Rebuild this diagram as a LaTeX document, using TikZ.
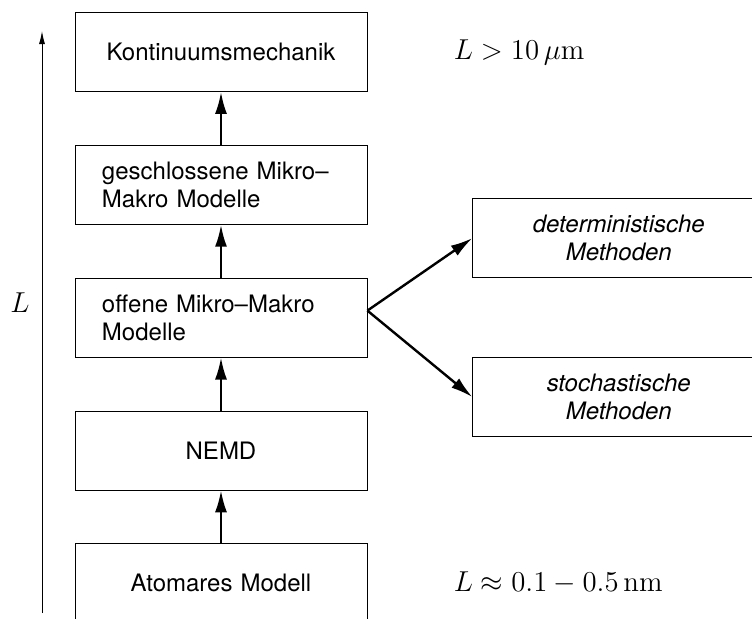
\documentclass[tikz,border=0pt]{standalone}
\usepackage{amsmath,amssymb}
\usepackage{fontspec}
\setsansfont{TeX Gyre Heros}
\usetikzlibrary{arrows.meta,positioning}
\tikzstyle{level} = [draw,line width=0.4pt,minimum width=146pt,minimum height=39.5pt,inner xsep=13.5pt,text width=119pt,align=center,font=\sffamily\fontsize{12}{13.8}\selectfont]
\tikzstyle{method} = [level,font=\sffamily\itshape\fontsize{12}{13.8}\selectfont]
\tikzstyle{flow} = [-{Latex[length=11pt,width=6pt]},line width=1.2pt]
\tikzstyle{lenaxis} = [-{Latex[length=6.5pt,width=3pt]},line width=0.5pt]
\tikzstyle{bound} = [inner sep=0,font=\Large]
\def \gap {26.5pt}

\begin{document}
\begin{tikzpicture}[node distance=\gap]
      \useasboundingbox (0,0) rectangle (376pt,-309pt);
      \node[level] (konti) at (110.5pt,-26pt) {Kontinuumsmechanik};
      \node[level,align=left,below=of konti] (closed) {geschlossene Mikro–\\Makro Modelle};
      \node[level,align=left,below=of closed] (open) {offene Mikro–Makro\\Modelle};
      \node[level,below=of open] (nemd) {NEMD};
      \node[level,below=of nemd] (atom) {Atomares Modell};
      \node[method,right=52.5pt of open.east,yshift=39.75pt] (det) {deterministische\\Methoden};
      \node[method,right=52.5pt of open.east,yshift=-39.75pt] (sto) {stochastische\\Methoden};
      \node[bound,right=43pt of konti.east] (upper) {$L > 10\,\mu\mathrm{m}$};
      \node[bound,right=43pt of atom.east] (lower) {$L \approx 0.1-0.5\,\mathrm{nm}$};
      \draw[flow] (atom.north) -- (nemd.south);
      \draw[flow] (nemd.north) -- (open.south);
      \draw[flow] (open.north) -- (closed.south);
      \draw[flow] (closed.north) -- (konti.south);
      \draw[flow] ([yshift=3.5pt]open.east) -- (det.west);
      \draw[flow] ([yshift=3.5pt]open.east) -- (sto.west);
      % length axis
      \coordinate (axbot) at (21pt,-306.5pt);
      \coordinate (axtop) at (21pt,-15.5pt);
      \draw[lenaxis] (axbot) -- (axtop) node[bound,pos=0.534,left=6pt] (ell) {$L$};
    \end{tikzpicture}
\end{document}
